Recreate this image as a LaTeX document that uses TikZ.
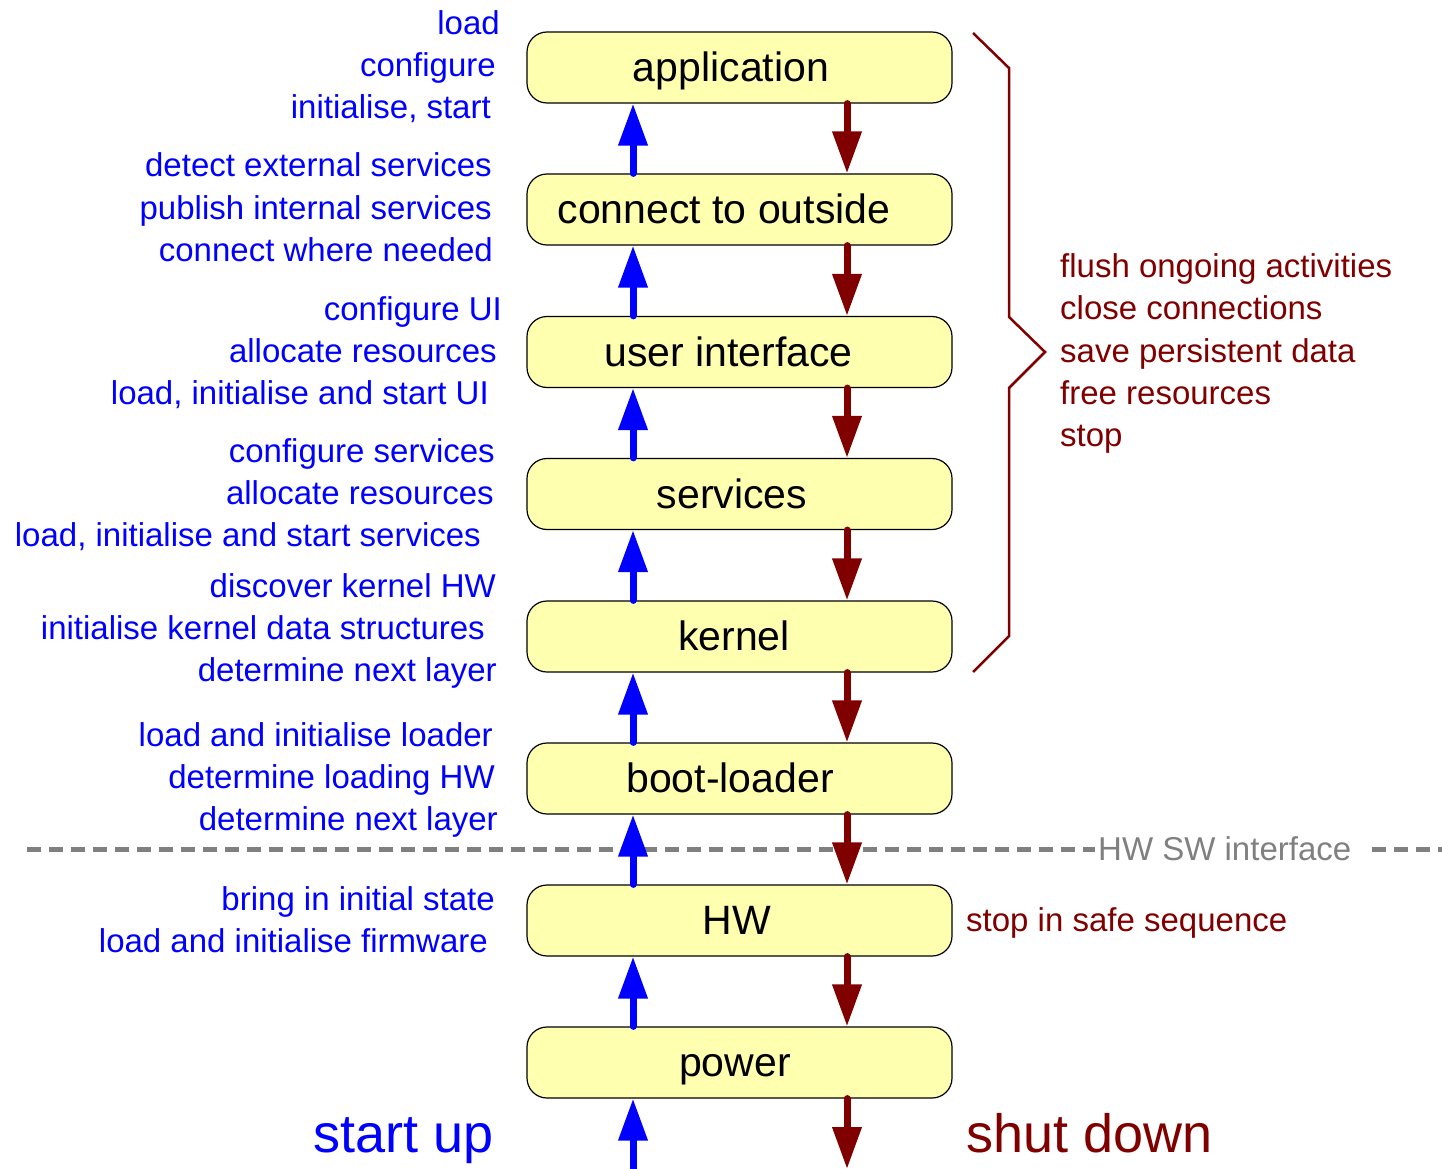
\documentclass[tikz,border=0pt]{standalone}
\usepackage{fontspec}
\setmainfont{Liberation Sans}
\usetikzlibrary{arrows.meta}
\definecolor{dred}{RGB}{128,0,0}
\definecolor{boxfill}{RGB}{255,255,176}
\definecolor{ifgray}{RGB}{128,128,128}
\tikzset{
  layer/.style={draw=black, line width=1.2pt, fill=boxfill, rounded corners=20pt,
    minimum width=425pt, minimum height=71pt, inner sep=0pt,
    font=\fontsize{41}{48}\selectfont, text height=37pt, text depth=9pt},
  up/.style={draw=blue, line width=7pt, line cap=round, -{Triangle[length=42pt,width=28pt]}},
  down/.style={draw=dred, line width=7pt, line cap=round, -{Triangle[length=42pt,width=28pt]}},
  bl/.style={text=blue, anchor=base east, inner sep=0pt, font=\fontsize{33}{40}\selectfont},
  rd/.style={text=dred, anchor=base west, inner sep=0pt, font=\fontsize{33}{40}\selectfont},
  big/.style={inner sep=0pt, font=\fontsize{54}{60}\selectfont},
  brace/.style={draw=dred, line width=2.5pt},
  iface/.style={draw=ifgray, line width=5pt, dash pattern=on 14pt off 8pt}
}
\newcommand{\shiftL}[2]{\hspace*{-#1pt}#2}
\begin{document}
\begin{tikzpicture}[x=1pt,y=-1pt]
\useasboundingbox (0,0) rectangle (1442,1169);
% layers
\node[layer] (app)  at (739.5,67.5)  {\shiftL{17}{application}};
\node[layer] (conn) at (739.5,209.5) {\shiftL{31}{connect to outside}};
\node[layer] (ui)   at (739.5,352)   {\shiftL{22}{user interface}};
\node[layer] (serv) at (739.5,494)   {\shiftL{15}{services}};
\node[layer] (kern) at (739.5,636.5) {\shiftL{11}{kernel}};
\node[layer] (boot) at (739.5,778.5) {\shiftL{19}{boot-loader}};
\node[layer] (hw)   at (739.5,920.5) {\shiftL{5}{HW}};
\node[layer] (pow)  at (739.5,1062.5){\shiftL{9}{power}};
% HW SW interface line
\coordinate (dl1) at (27,849);
\coordinate (dl2) at (1095,849);
\coordinate (dl3) at (1372,849);
\coordinate (dl4) at (1442,849);
\draw[iface] (dl1) -- (dl2);
\draw[iface] (dl3) -- (dl4);
\node[anchor=base west, inner sep=0pt, text=ifgray, font=\fontsize{33}{40}\selectfont] (ifl) at (1098,860) {HW SW interface};
% arrows
\coordinate (bx) at (633,0);
\coordinate (rx) at (847,0);
\coordinate (bbot) at (633,1169);
\coordinate (rbot) at (847,1169);
\foreach \lo/\hi in {conn/app, ui/conn, serv/ui, kern/serv, boot/kern, hw/boot, pow/hw}{
  \draw[up] (\lo.north -| bx) -- (\hi.south -| bx);
  \draw[down] (\hi.south -| rx) -- (\lo.north -| rx);
}
\draw[up] (bbot) -- (pow.south -| bx);
\draw[down] (pow.south -| rx) -- (rbot);
% brace
\coordinate (b1) at (973,33);
\coordinate (b2) at (1009,68);
\coordinate (b3) at (1009,317);
\coordinate (b4) at (1045,352);
\coordinate (b5) at (1009,388);
\coordinate (b6) at (1009,636);
\coordinate (b7) at (973,672);
\draw[brace] (b1) -- (b2) -- (b3) -- (b4) -- (b5) -- (b6) -- (b7);
% shut down texts
\node[rd] (r1) at (1060,277) {flush ongoing activities};
\node[rd] (r2) at (1060,319) {close connections};
\node[rd] (r3) at (1060,362) {save persistent data};
\node[rd] (r4) at (1060,404) {free resources};
\node[rd] (r5) at (1060,446) {stop};
\node[rd] (r6) at (966,931) {stop in safe sequence};
% start up texts
\node[bl] (a1) at (500,35)  {load};
\node[bl] (a2) at (496,77)  {configure};
\node[bl] (a3) at (491,119) {initialise, start};
\node[bl] (c1) at (492,177) {detect external services};
\node[bl] (c2) at (492,219) {publish internal services};
\node[bl] (c3) at (493,261) {connect where needed};
\node[bl] (u1) at (502,320) {configure UI};
\node[bl] (u2) at (497,362) {allocate resources};
\node[bl] (u3) at (489,404) {load, initialise and start UI};
\node[bl] (s1) at (495,462) {configure services};
\node[bl] (s2) at (494,504) {allocate resources};
\node[bl] (s3) at (481,546) {load, initialise and start services};
\node[bl] (k1) at (496,597) {discover kernel HW};
\node[bl] (k2) at (485,639) {initialise kernel data structures};
\node[bl] (k3) at (497,681) {determine next layer};
\node[bl] (l1) at (493,746) {load and initialise loader};
\node[bl] (l2) at (495,788) {determine loading HW};
\node[bl] (l3) at (498,830) {determine next layer};
\node[bl] (h1) at (495,910) {bring in initial state};
\node[bl] (h2) at (488,952) {load and initialise firmware};
% titles
\node[big, text=blue, anchor=base east] (su) at (494,1152) {start up};
\node[big, text=dred, anchor=base west] (sd) at (966,1152) {shut down};
\end{tikzpicture}
\end{document}
